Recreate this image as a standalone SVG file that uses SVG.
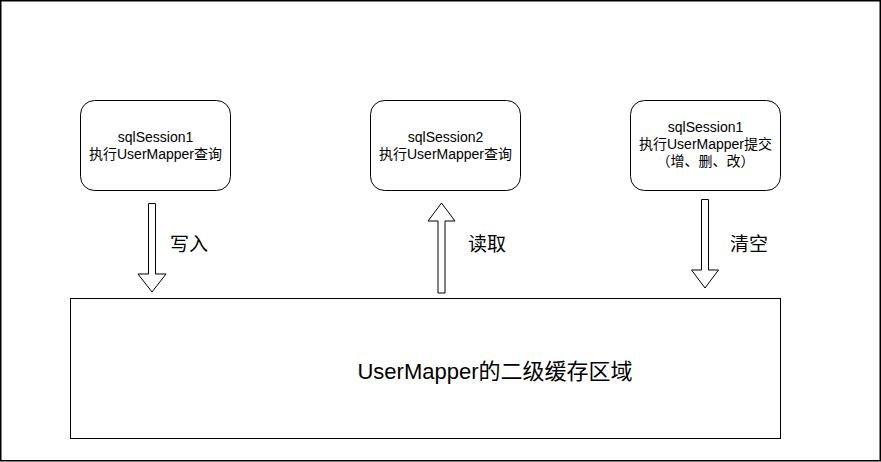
<svg xmlns="http://www.w3.org/2000/svg" width="881" height="462" viewBox="0 0 881 462">
<style>
text{font-family:"Liberation Sans","Noto Sans CJK SC",sans-serif;fill:#000;text-anchor:middle}
.node{fill:#fff;stroke:#000;stroke-width:1}
.arr{fill:#fff;stroke:#000;stroke-width:1;stroke-linejoin:miter}
.t14{font-size:14px}
.lbl{font-size:19px;text-anchor:start}
</style>
<rect x="0.75" y="0.75" width="879.5" height="460" fill="#fff" stroke="#000" stroke-width="1.5"/>
<g id="node-cache">
<rect class="node" x="70.5" y="298.5" width="710" height="140"/>
<text x="495" y="379" font-size="22">UserMapper的二级缓存区域</text>
</g>
<g id="node-session1-query">
<rect class="node" x="80.5" y="100.5" width="150" height="90" rx="14"/>
<text class="t14" x="155.5" y="142">sqlSession1</text>
<text class="t14" x="155.5" y="159">执行UserMapper查询</text>
</g>
<g id="node-session2-query">
<rect class="node" x="370.5" y="100.5" width="150" height="90" rx="14"/>
<text class="t14" x="445.5" y="142">sqlSession2</text>
<text class="t14" x="445.5" y="159">执行UserMapper查询</text>
</g>
<g id="node-session1-commit">
<rect class="node" x="630.5" y="100.5" width="150" height="90" rx="14"/>
<text class="t14" x="705.5" y="132">sqlSession1</text>
<text class="t14" x="705.5" y="149">执行UserMapper提交</text>
<text class="t14" x="705.5" y="166">（增、删、改）</text>
</g>
<g id="connectors">
<polygon class="arr" points="148.5,203.5 155.5,203.5 155.5,274 166,274 152,292 138,274 148.5,274"/>
<text class="lbl" x="170" y="251">写入</text>
<polygon class="arr" points="438,293 445,293 445,221 455,221 441.5,203 428,221 438,221"/>
<text class="lbl" x="468" y="251">读取</text>
<polygon class="arr" points="701.5,199.5 708.5,199.5 708.5,270 718.5,270 705,288 691.5,270 701.5,270"/>
<text class="lbl" x="730" y="251">清空</text>
</g>
</svg>
